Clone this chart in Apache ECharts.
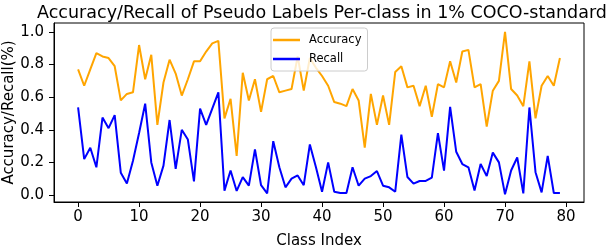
<!DOCTYPE html>
<html>
<head>
<meta charset="utf-8">
<script src="https://cdn.jsdelivr.net/npm/echarts@6/dist/echarts.min.js"></script>
<style>html,body{margin:0;padding:0;background:#fff}#c{width:608px;height:246px}</style>
</head>
<body>
<div id="c"></div>
<script>
const classIndex = Array.from({length: 80}, (_, i) => i);
const accuracy = [
  0.77, 0.67, 0.77, 0.87, 0.85, 0.84, 0.79, 0.58, 0.62, 0.63,
  0.92, 0.71, 0.86, 0.43, 0.69, 0.83, 0.745, 0.61, 0.71, 0.82,
  0.82, 0.88, 0.93, 0.945, 0.47, 0.59, 0.24, 0.75, 0.58, 0.71,
  0.51, 0.71, 0.73, 0.63, 0.64, 0.65, 0.85, 0.64, 0.84, 0.78,
  0.73, 0.67, 0.57, 0.56, 0.545, 0.65, 0.58, 0.29, 0.62, 0.43,
  0.61, 0.43, 0.755, 0.79, 0.66, 0.67, 0.545, 0.67, 0.48, 0.68,
  0.66, 0.82, 0.69, 0.88, 0.89, 0.66, 0.68, 0.42, 0.64, 0.70,
  1.0, 0.65, 0.61, 0.545, 0.82, 0.47, 0.67, 0.73, 0.67, 0.84
];
const recall = [
  0.537, 0.22, 0.29, 0.17, 0.475, 0.41, 0.49, 0.137, 0.07, 0.21,
  0.38, 0.56, 0.20, 0.057, 0.18, 0.46, 0.16, 0.40, 0.34, 0.084,
  0.53, 0.43, 0.53, 0.63, 0.027, 0.15, 0.025, 0.11, 0.057, 0.28,
  0.06, 0.01, 0.33, 0.17, 0.047, 0.10, 0.12, 0.06, 0.31, 0.17,
  0.02, 0.20, 0.02, 0.012, 0.012, 0.17, 0.057, 0.10, 0.116, 0.147,
  0.057, 0.047, 0.02, 0.37, 0.11, 0.07, 0.086, 0.086, 0.106, 0.38,
  0.15, 0.54, 0.265, 0.19, 0.17, 0.027, 0.19, 0.116, 0.26, 0.20,
  0.004, 0.15, 0.23, 0.01, 0.537, 0.14, 0.016, 0.24, 0.012, 0.012
];
const xTicks = [0, 10, 20, 30, 40, 50, 60, 70, 80];
const yTicks = [0.0, 0.2, 0.4, 0.6, 0.8, 1.0];

const FONT = 'DejaVu Sans';
const chart = echarts.init(document.getElementById('c'), null, {renderer: 'canvas'});
chart.setOption({
  animation: false,
  backgroundColor: '#fff',
  title: {
    text: 'Accuracy/Recall of Pseudo Labels Per-class in 1% COCO-standard',
    left: 317, top: -1, textAlign: 'center',
    textStyle: {fontFamily: FONT, fontSize: 17.5, fontWeight: 'normal', color: '#000'}
  },
  legend: {
    orient: 'vertical', left: 271, top: 28,
    data: ['Accuracy', 'Recall'],
    icon: 'rect', itemWidth: 27, itemHeight: 2.5, itemGap: 5,
    backgroundColor: 'rgba(255,255,255,0.8)', borderColor: '#ccc', borderWidth: 1, borderRadius: 3,
    padding: [5, 6, 5, 2],
    textStyle: {fontFamily: FONT, fontSize: 11.5, color: '#000', padding: [0, 0, 0, 4], lineHeight: 14}
  },
  grid: {left: 54, right: 24, top: 23, bottom: 44, show: true, borderColor: '#000', borderWidth: 1,
    containLabel: false, outerBoundsMode: 'none'},
  xAxis: {
    type: 'value', min: -3.95, max: 82.95,
    name: 'Class Index', nameLocation: 'middle', nameGap: 32,
    nameTextStyle: {fontFamily: FONT, fontSize: 15, color: '#000'},
    axisLine: {show: true, onZero: false, lineStyle: {color: '#000', width: 1}},
    axisTick: {show: true, customValues: xTicks, length: 5, lineStyle: {color: '#000'}},
    axisLabel: {customValues: xTicks, fontFamily: FONT, fontSize: 15, color: '#000', margin: 8},
    splitLine: {show: false}
  },
  yAxis: {
    type: 'value', min: -0.043, max: 1.055,
    name: 'Accuracy/Recall(%)', nameLocation: 'middle', nameGap: 37, nameMoveOverlap: false,
    nameTextStyle: {fontFamily: FONT, fontSize: 15, color: '#000'},
    axisLine: {show: true, onZero: false, lineStyle: {color: '#000', width: 1}},
    axisTick: {show: true, customValues: yTicks, length: 5, lineStyle: {color: '#000'}},
    axisLabel: {customValues: yTicks, fontFamily: FONT, fontSize: 15, color: '#000', margin: 10,
      formatter: v => v.toFixed(1)},
    splitLine: {show: false}
  },
  series: [
    {name: 'Accuracy', type: 'line', data: classIndex.map((x, i) => [x, accuracy[i]]),
      showSymbol: false, lineStyle: {color: '#FFA500', width: 2}, itemStyle: {color: '#FFA500'}},
    {name: 'Recall', type: 'line', data: classIndex.map((x, i) => [x, recall[i]]),
      showSymbol: false, lineStyle: {color: '#0000FF', width: 2}, itemStyle: {color: '#0000FF'}}
  ]
});
</script>
</body>
</html>
